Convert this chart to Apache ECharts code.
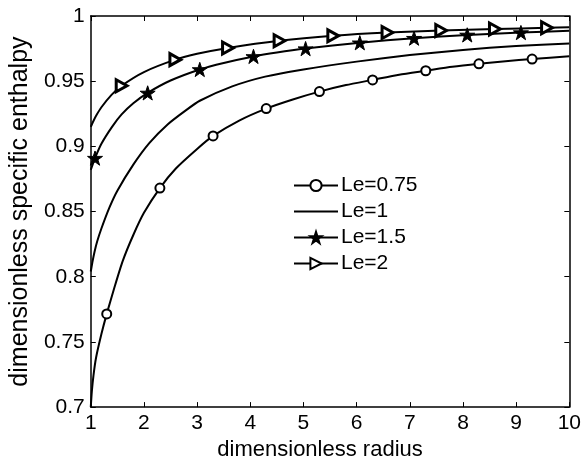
<!DOCTYPE html>
<html>
<head>
<meta charset="utf-8">
<script src="https://cdn.jsdelivr.net/npm/echarts@6/dist/echarts.min.js"></script>
<style>html,body{margin:0;padding:0;background:#fff}#c{width:584px;height:466px}</style>
</head>
<body>
<div id="c"></div>
<script>
// ---- data ----
const seriesNames = ['Le=0.75', 'Le=1', 'Le=1.5', 'Le=2'];

const le075X = [1.0, 1.02, 1.05, 1.1, 1.2, 1.3, 1.45, 1.6, 1.8, 2.0, 2.3, 2.6, 3.0, 3.3, 3.8, 4.3, 4.8, 5.3, 5.8, 6.3, 6.8, 7.3, 7.8, 8.3, 8.8, 9.3, 10.0];
const le075Y = [0.700, 0.712, 0.724, 0.738, 0.756, 0.7715, 0.7925, 0.812, 0.832, 0.849, 0.868, 0.883, 0.898, 0.908, 0.920, 0.929, 0.936, 0.942, 0.947, 0.951, 0.955, 0.958, 0.961, 0.9633, 0.9653, 0.967, 0.9692];
const le075Marks = [1.3, 2.3, 3.3, 4.3, 5.3, 6.3, 7.3, 8.3, 9.3];

const le1X = [1.0, 1.03, 1.07, 1.12, 1.2, 1.35, 1.5, 1.8, 2.1, 2.45, 2.8, 3.05, 3.66, 4.28, 5.0, 6.0, 7.0, 8.0, 9.0, 10.0];
const le1Y = [0.804, 0.811, 0.819, 0.827, 0.837, 0.853, 0.866, 0.886, 0.9025, 0.917, 0.928, 0.935, 0.946, 0.9535, 0.959, 0.965, 0.970, 0.974, 0.977, 0.979];
const le1Marks = [];

const le15X = [1.0, 1.08, 1.2, 1.4, 1.58, 1.8, 2.07, 2.5, 3.05, 3.5, 4.06, 4.5, 5.04, 6.06, 7.08, 8.08, 9.09, 10.0];
const le15Y = [0.882, 0.891, 0.902, 0.915, 0.9245, 0.933, 0.941, 0.9505, 0.959, 0.964, 0.969, 0.972, 0.975, 0.9795, 0.983, 0.9855, 0.9873, 0.9886];
const le15Marks = [1.08, 2.07, 3.05, 4.06, 5.04, 6.06, 7.08, 8.08, 9.09];

const le2X = [1.0, 1.05, 1.1, 1.2, 1.39, 1.58, 2.0, 2.59, 3.0, 3.58, 4.55, 5.56, 6.58, 7.59, 8.6, 9.58, 10.0];
const le2Y = [0.915, 0.9195, 0.9235, 0.930, 0.9395, 0.9465, 0.957, 0.9665, 0.971, 0.9755, 0.981, 0.9848, 0.9873, 0.9889, 0.990, 0.991, 0.9914];
const le2Marks = [1.58, 2.59, 3.58, 4.55, 5.56, 6.58, 7.59, 8.6, 9.58];

const xTicks = [1, 2, 3, 4, 5, 6, 7, 8, 9, 10];
const yTickLabels = ['0.7', '0.75', '0.8', '0.85', '0.9', '0.95', '1'];

// ---- build ----
const STAR = 'path://M50,0 L61.2,34.5 L97.6,34.5 L68.2,55.9 L79.4,90.5 L50,69.1 L20.6,90.5 L31.8,55.9 L2.4,34.5 L38.8,34.5 Z';
const TRI = 'path://M0,0 L90,50 L0,100 Z';

function build(xs, ys, marks) {
  return xs.map((x, i) => {
    const item = { value: [x, ys[i]] };
    if (marks.indexOf(x) < 0) item.symbol = 'none';
    return item;
  });
}

const FONT = "'Liberation Sans', Arial, Helvetica, sans-serif";
const chart = echarts.init(document.getElementById('c'), null, { renderer: 'canvas' });

const baseLine = { color: '#000', width: 2 };

const option = {
  animation: false,
  backgroundColor: '#fff',
  grid: { left: 82, right: 13, top: 16, bottom: 54 },
  legend: {
    left: 288, top: 170, orient: 'vertical',
    itemWidth: 44, itemHeight: 14, itemGap: 5,
    textStyle: { fontFamily: FONT, fontSize: 21, color: '#000', padding: [0, 0, 0, -2] },
    data: seriesNames
  },
  xAxis: [{
    type: 'value', min: 1, max: 10, interval: 1,
    name: 'dimensionless radius', nameLocation: 'middle', nameGap: 29,
    nameTextStyle: { fontFamily: FONT, fontSize: 22, color: '#000', padding: [0, 20, 0, 0] },
    axisLine: { onZero: false, lineStyle: { color: '#000', width: 1.5 } },
    axisTick: { inside: true, length: 5, lineStyle: { color: '#000', width: 1 } },
    axisLabel: { fontFamily: FONT, fontSize: 21, color: '#000', margin: 6,
      formatter: v => (xTicks.indexOf(v) >= 0 ? String(v) : '') },
    splitLine: { show: false }
  }, {
    type: 'value', min: 1, max: 10, interval: 1, position: 'top',
    axisLine: { onZero: false, lineStyle: { color: '#000', width: 1.5 } },
    axisTick: { inside: true, length: 5, lineStyle: { color: '#000', width: 1 } },
    axisLabel: { show: false }, splitLine: { show: false }
  }],
  yAxis: [{
    type: 'value', min: 0.7, max: 1, interval: 0.05,
    name: 'dimensionless specific enthalpy', nameLocation: 'middle', nameGap: 46,
    nameTextStyle: { fontFamily: FONT, fontSize: 25, color: '#000' },
    axisLine: { onZero: false, lineStyle: { color: '#000', width: 1.5 } },
    axisTick: { inside: true, length: 5, lineStyle: { color: '#000', width: 1 } },
    axisLabel: { fontFamily: FONT, fontSize: 21, color: '#000', margin: 6,
      formatter: v => { const i = Math.round((v - 0.7) / 0.05); return yTickLabels[i] || ''; } },
    splitLine: { show: false }
  }, {
    type: 'value', min: 0.7, max: 1, interval: 0.05, position: 'right',
    axisLine: { onZero: false, lineStyle: { color: '#000', width: 1.5 } },
    axisTick: { inside: true, length: 5, lineStyle: { color: '#000', width: 1 } },
    axisLabel: { show: false }, splitLine: { show: false }
  }],
  series: [
    {
      name: seriesNames[0], type: 'line', smooth: 0.2,
      symbol: 'emptyCircle', symbolSize: 9, showSymbol: true,
      lineStyle: baseLine, itemStyle: { color: '#000', borderWidth: 2 },
      data: build(le075X, le075Y, le075Marks)
    },
    {
      name: seriesNames[1], type: 'line', smooth: 0.2, symbol: 'circle',
      lineStyle: baseLine, itemStyle: { color: 'rgba(0,0,0,0)' },
      data: build(le1X, le1Y, le1Marks)
    },
    {
      name: seriesNames[2], type: 'line', smooth: 0.2,
      symbol: STAR, symbolSize: 15, symbolKeepAspect: true, showSymbol: true,
      lineStyle: baseLine, itemStyle: { color: '#000', borderColor: '#000', borderWidth: 1 },
      data: build(le15X, le15Y, le15Marks)
    },
    {
      name: seriesNames[3], type: 'line', smooth: 0.2,
      symbol: TRI, symbolSize: 12, symbolKeepAspect: true, showSymbol: true,
      lineStyle: baseLine, itemStyle: { color: '#fff', borderColor: '#000', borderWidth: 3 },
      data: build(le2X, le2Y, le2Marks)
    }
  ]
};
chart.setOption(option);
</script>
</body>
</html>
